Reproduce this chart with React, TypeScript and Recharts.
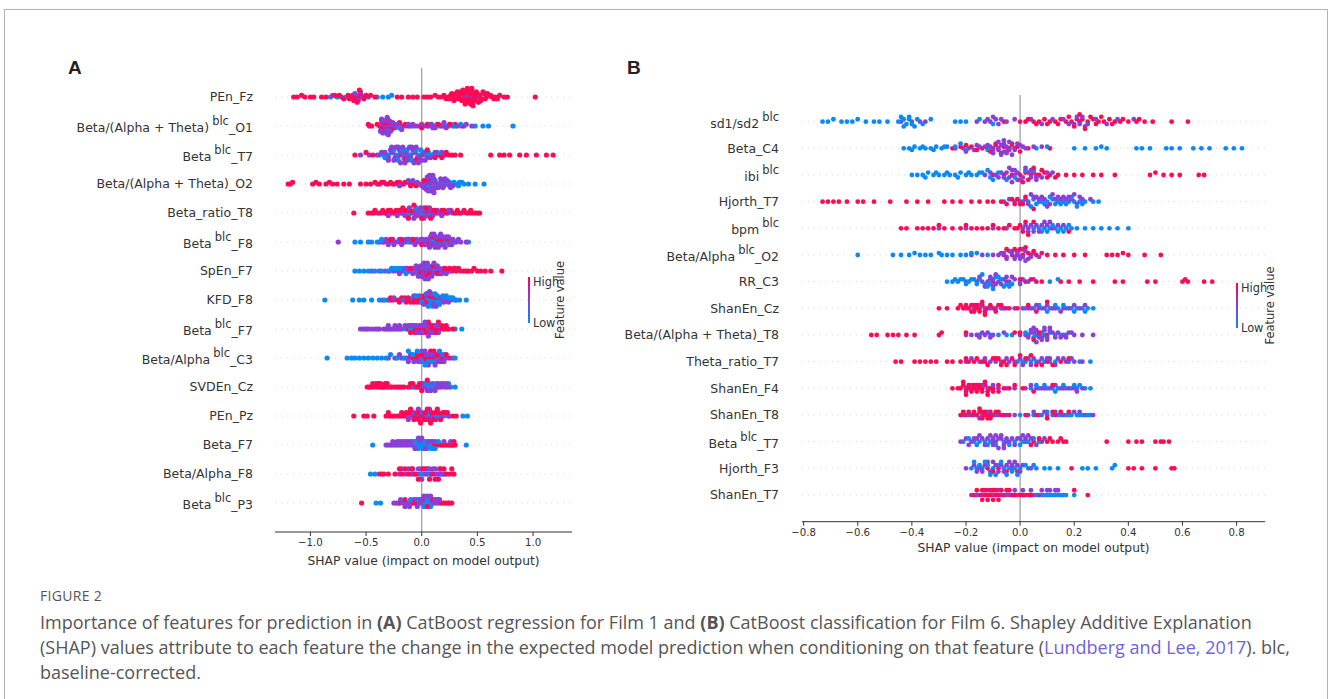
import React from 'react';
import { ScatterChart, Scatter, XAxis, YAxis, CartesianGrid } from 'recharts';

type Row = { lo: number[]; mid: number[]; hi: number[] };

// ---- Panel A: CatBoost regression, Film 1 ----
const featuresA = [
  'PEn_Fz', 'Beta/(Alpha + Theta)^blc_O1', 'Beta^blc_T7', 'Beta/(Alpha + Theta)_O2', 'Beta_ratio_T8',
  'Beta^blc_F8', 'SpEn_F7', 'KFD_F8', 'Beta^blc_F7', 'Beta/Alpha^blc_C3',
  'SVDEn_Cz', 'PEn_Pz', 'Beta_F7', 'Beta/Alpha_F8', 'Beta^blc_P3',
];
const ticksA = [-1, -0.5, 0, 0.5, 1];

const aPEnFz: Row = {
  lo: [-0.82, -0.76, -0.68, -0.4, -0.35, -0.3, -0.27],
  mid: [-0.8, -0.72, -0.64, -0.58, -0.56, -0.53, -0.48, 0.28, 0.38, 0.44, 0.49, 0.33, 0.41, 0.46, 0.52, -0.6, -0.57, -0.55],
  hi: [-1.15, -1.12, -1.08, -1.05, -1.0, -0.97, -0.9, -0.86, -0.78, -0.74, -0.7, -0.66, -0.62, -0.6, -0.57, -0.55, -0.5, -0.46, -0.42, -0.22, -0.18, -0.12, -0.08, -0.04, 0.02, 0.05, 0.08, 0.12, 0.15, 0.18, 0.2, 0.22, 0.24, 0.26, 0.28, 0.3, 0.31, 0.33, 0.34, 0.35, 0.36, 0.37, 0.38, 0.39, 0.4, 0.41, 0.42, 0.43, 0.44, 0.45, 0.46, 0.47, 0.48, 0.5, 0.52, 0.54, 0.56, 0.58, 0.6, 0.63, 0.66, 0.7, 0.74, 0.77, 1.02,
    0.25, 0.27, 0.29, 0.32, 0.35, 0.37, 0.39, 0.41, 0.43, 0.44, 0.45, 0.46, 0.47, 0.49, 0.51, 0.53, 0.55, 0.57, 0.59, 0.62, 0.65, 0.68, -0.65, -0.61, -0.58, -0.56, -0.52],
};
const aO1: Row = {
  lo: [-0.34, -0.31, -0.26, -0.08, 0.02, 0.06, 0.12, 0.16, 0.24, 0.3, 0.38, 0.48, 0.55, 0.6, 0.82, -0.32, -0.2, 0.09, 0.2, 0.28, 0.35],
  mid: [-0.47, -0.38, -0.37, -0.36, -0.35, -0.34, -0.33, -0.32, -0.31, -0.3, -0.29, -0.27, -0.24, -0.2, -0.15, -0.1, -0.05, 0.0, 0.05, 0.1, 0.14, 0.18, 0.22, 0.26, 0.32, 0.4, 0.45,
    -0.37, -0.36, -0.35, -0.34, -0.33, -0.32, -0.31, -0.3, -0.29, -0.28, -0.26, -0.22, -0.18, -0.12, -0.08, 0.08, 0.12, 0.2],
  hi: [-0.48, -0.45, -0.4, -0.36, -0.35, -0.33, -0.32, -0.3, -0.28, -0.25, -0.22, -0.18, -0.12, -0.02, 0.1, 0.2, 0.3, 0.36, -0.36, -0.34, -0.31, -0.29, -0.27, -0.2, -0.15, 0.0, 0.05, 0.15, 0.25],
};
const aT7: Row = {
  lo: [-0.38, -0.34, -0.3, -0.27, -0.23, -0.19, -0.15, -0.11, -0.07, -0.03, 0.01, 0.04, 0.09, 0.14, -0.33, -0.25, -0.21, -0.17, -0.13, -0.09, -0.05, -0.01, 0.06],
  mid: [-0.55, -0.47, -0.4, -0.36, -0.33, -0.3, -0.28, -0.26, -0.24, -0.22, -0.2, -0.18, -0.16, -0.14, -0.12, -0.1, -0.08, -0.06, -0.04, -0.02, 0.02, 0.05, 0.08, 0.12, 0.18,
    -0.3, -0.27, -0.25, -0.23, -0.21, -0.19, -0.17, -0.15, -0.13, -0.11, -0.09, -0.07, -0.05, -0.03, 0.0, 0.03],
  hi: [-0.6, -0.5, -0.44, -0.2, -0.1, 0.0, 0.1, 0.15, 0.2, 0.24, 0.3, 0.35, 0.62, 0.7, 0.74, 0.79, 0.88, 0.94, 1.03, 1.12, 1.18, -0.15, -0.05, 0.05, 0.12, 0.18, 0.22, 0.27],
};
const aO2: Row = {
  lo: [0.04, 0.08, 0.1, 0.13, 0.15, 0.19, 0.23, 0.27, 0.31, 0.34, 0.38, 0.42, 0.48, 0.56, 0.06, 0.11, 0.17, 0.21, 0.25, 0.29, 0.33, 0.36],
  mid: [-0.4, -0.32, -0.24, -0.16, -0.1, -0.06, -0.02, 0.01, 0.03, 0.05, 0.06, 0.07, 0.08, 0.09, 0.1, 0.11, 0.12, 0.14, 0.16, 0.18, 0.2, 0.22, 0.25, 0.28,
    0.0, 0.02, 0.04, 0.05, 0.06, 0.07, 0.08, 0.09, 0.1, 0.11, 0.12, 0.13, 0.15, 0.17, 0.19, 0.21, 0.23, 0.26, -0.04, -0.08, -0.12, -0.2],
  hi: [-1.2, -1.18, -1.16, -0.98, -0.95, -0.92, -0.86, -0.83, -0.8, -0.76, -0.7, -0.65, -0.55, -0.5, -0.46, -0.42, -0.38, -0.34, -0.3, -0.26, -0.22, -0.18, -0.12, -0.08, 0.02, 0.06, -0.36, -0.28, -0.2, -0.15, -0.1, -0.05],
};
const aRatioT8: Row = {
  lo: [-0.18, -0.14, -0.1, -0.07, -0.04, -0.01, 0.01, 0.04, 0.09, 0.24, 0.31, -0.12, -0.05, 0.0, 0.02, 0.06],
  mid: [-0.4, -0.36, -0.32, -0.28, -0.24, -0.2, -0.17, -0.13, -0.09, -0.06, -0.03, 0.0, 0.03, 0.05, 0.08, 0.12, 0.16, 0.2, 0.28, 0.36,
    -0.3, -0.22, -0.15, -0.11, -0.07, -0.04, -0.01, 0.02, 0.04, 0.07, 0.1, 0.14, 0.18, 0.24],
  hi: [-0.61, -0.48, -0.45, -0.42, -0.38, -0.35, -0.3, -0.26, -0.2, -0.15, -0.1, -0.05, 0.02, 0.06, 0.1, 0.14, 0.18, 0.22, 0.26, 0.3, 0.34, 0.38, 0.42, 0.45, 0.48, 0.52,
    -0.43, -0.33, -0.28, -0.23, -0.17, -0.12, -0.07, 0.0, 0.04, 0.08, 0.12, 0.2, 0.32, 0.4, 0.44, 0.5],
};
const aF8: Row = {
  lo: [-0.6, -0.55, -0.48, -0.45, -0.4, -0.36, -0.12, 0.0, 0.05, 0.09, 0.13, 0.17, 0.21, 0.3, 0.42, 0.07, 0.11, 0.15, 0.19, 0.23, 0.26],
  mid: [-0.75, -0.38, -0.35, -0.32, -0.29, -0.26, -0.23, -0.2, -0.17, -0.14, -0.11, -0.08, -0.05, -0.02, 0.01, 0.04, 0.06, 0.08, 0.1, 0.12, 0.14, 0.16, 0.18, 0.2, 0.22, 0.25, 0.28, 0.31, 0.35, 0.4,
    -0.3, -0.25, -0.18, -0.12, -0.06, -0.01, 0.03, 0.07, 0.09, 0.11, 0.13, 0.15, 0.17, 0.19, 0.21, 0.24, 0.27, 0.33],
  hi: [-0.34, -0.3, -0.25, -0.2, -0.15, -0.1, -0.05, 0.02, 0.08, 0.12, 0.16, 0.2, 0.26, -0.28, -0.18, -0.08, 0.0, 0.05, 0.1, 0.14, 0.18, 0.23],
};
const aSpEnF7: Row = {
  lo: [-0.6, -0.56, -0.52, -0.48, -0.42, -0.36, -0.3, -0.24, -0.18, -0.08, 0.03, 0.11, -0.27, -0.21, -0.14, -0.04, 0.06],
  mid: [-0.45, -0.38, -0.33, -0.29, -0.25, -0.21, -0.17, -0.13, -0.1, -0.07, -0.04, -0.02, 0.01, 0.02, 0.04, 0.05, 0.07, 0.08, 0.1, 0.13, 0.16, 0.2, 0.25, 0.3,
    -0.2, -0.15, -0.08, -0.05, -0.03, -0.01, 0.0, 0.02, 0.03, 0.05, 0.06, 0.09, 0.11, 0.14, 0.18, 0.22],
  hi: [-0.2, -0.12, -0.05, 0.0, 0.03, 0.06, 0.09, 0.12, 0.15, 0.19, 0.23, 0.27, 0.31, 0.35, 0.38, 0.42, 0.45, 0.5, 0.53, 0.57, 0.62, 0.72,
    -0.1, -0.02, 0.01, 0.04, 0.07, 0.1, 0.14, 0.17, 0.21, 0.25, 0.29, 0.33, 0.4, 0.47],
};
const aKfdF8: Row = {
  lo: [-0.87, -0.62, -0.56, -0.52, -0.45, -0.38, -0.33, -0.08, -0.02, 0.02, 0.05, 0.07, 0.09, 0.11, 0.13, 0.15, 0.18, 0.2, 0.24, 0.28, 0.34, 0.4,
    0.0, 0.04, 0.06, 0.08, 0.1, 0.12, 0.14, 0.16, 0.19, 0.22, 0.26, 0.31, -0.05],
  mid: [-0.35, -0.28, -0.2, -0.14, -0.1, -0.04, 0.01, 0.04, 0.06, 0.08, 0.1, 0.12, 0.14, 0.16, 0.19, 0.22, 0.26, 0.3,
    -0.25, -0.17, -0.07, -0.02, 0.02, 0.05, 0.07, 0.09, 0.11, 0.13, 0.17, 0.2, 0.24],
  hi: [-0.3, -0.26, -0.22, -0.18, -0.15, -0.12, -0.09, -0.06, -0.03, 0.0, 0.03, 0.07, 0.12, -0.28, -0.2, -0.14, -0.1, -0.07, -0.04, -0.01, 0.02, 0.05, 0.09],
};
const aF7: Row = {
  lo: [-0.24, -0.14, -0.07, -0.03, 0.03, 0.06, 0.12, 0.18, 0.22, 0.3, 0.36, -0.1, -0.05, 0.0, 0.05, 0.08, 0.15],
  mid: [-0.55, -0.52, -0.48, -0.45, -0.42, -0.38, -0.34, -0.3, -0.26, -0.22, -0.18, -0.15, -0.1, -0.06, -0.02, 0.01, 0.04, 0.07, 0.11, 0.15,
    -0.5, -0.4, -0.32, -0.28, -0.24, -0.2, -0.12, -0.08, -0.04, 0.0, 0.03, 0.06, 0.09, 0.13],
  hi: [-0.3, -0.2, -0.12, -0.08, -0.04, 0.0, 0.02, 0.05, 0.08, 0.1, 0.13, 0.16, 0.2, 0.24, 0.28, -0.1, -0.06, -0.02, 0.01, 0.04, 0.06, 0.09, 0.12, 0.15, 0.18, 0.22],
};
const aC3: Row = {
  lo: [-0.85, -0.67, -0.63, -0.6, -0.56, -0.52, -0.48, -0.44, -0.4, -0.36, -0.32, -0.28, -0.22, -0.16, -0.08, 0.0, 0.06, 0.12, 0.2, 0.3, -0.12, -0.04, 0.03, 0.09, 0.16],
  mid: [-0.3, -0.24, -0.18, -0.14, -0.1, -0.05, -0.01, 0.02, 0.05, 0.08, 0.11, 0.14, 0.18, 0.22, 0.28, -0.2, -0.12, -0.07, -0.03, 0.0, 0.03, 0.06, 0.09, 0.12, 0.15, 0.2],
  hi: [-0.12, -0.06, -0.02, 0.01, 0.04, 0.07, 0.1, 0.13, 0.16, 0.2, 0.25, -0.08, -0.04, 0.0, 0.02, 0.05, 0.08, 0.11, 0.14, 0.18, 0.22],
};
const aSvdCz: Row = {
  lo: [-0.06, 0.0, 0.03, 0.06, 0.08, 0.11, 0.14, 0.17, 0.22, 0.26, 0.3, 0.02, 0.05, 0.09, 0.13, 0.19, 0.24],
  mid: [-0.1, -0.05, -0.02, 0.02, 0.04, 0.07, 0.1, 0.13, 0.16, 0.2, 0.24, -0.08, 0.0, 0.05, 0.08, 0.12, 0.15, 0.18, 0.22],
  hi: [-0.49, -0.46, -0.43, -0.4, -0.38, -0.36, -0.34, -0.32, -0.3, -0.27, -0.24, -0.2, -0.16, -0.12, -0.08, -0.04, 0.0, 0.05,
    -0.47, -0.44, -0.41, -0.39, -0.37, -0.35, -0.33, -0.31, -0.28, -0.22, -0.18, -0.1, -0.02],
};
const aPEnPz: Row = {
  lo: [-0.08, -0.02, 0.04, 0.1, 0.16, 0.2, 0.37, 0.41, 0.07, 0.13, 0.25],
  mid: [-0.18, -0.14, -0.1, -0.05, -0.01, 0.02, 0.05, 0.08, 0.11, 0.14, 0.18, 0.24, -0.12, -0.07, -0.03, 0.0, 0.04, 0.07, 0.1, 0.13],
  hi: [-0.61, -0.52, -0.49, -0.43, -0.32, -0.29, -0.27, -0.25, -0.2, -0.16, -0.12, -0.09, -0.06, -0.03, 0.0, 0.03, 0.06, 0.09, 0.12, 0.15, 0.19, 0.23, 0.28,
    -0.3, -0.22, -0.18, -0.14, -0.1, -0.07, -0.04, -0.01, 0.02, 0.05, 0.08, 0.11, 0.14, 0.17, 0.21, 0.31],
};
const aBetaF7: Row = {
  lo: [-0.44, -0.26, -0.22, -0.18, -0.14, -0.1, -0.07, -0.04, -0.02, 0.0, 0.02, 0.05, 0.09, 0.15, 0.4, -0.2, -0.16, -0.12, -0.08, -0.06, -0.03, -0.01, 0.01, 0.03, 0.07, 0.12],
  mid: [-0.32, -0.28, -0.24, -0.2, -0.16, -0.12, -0.08, -0.05, -0.02, 0.01, 0.04, 0.08, 0.12, 0.2, 0.26, -0.3, -0.26, -0.22, -0.18, -0.14, -0.1, -0.06, -0.03, 0.0, 0.03, 0.06, 0.1],
  hi: [0.05, 0.1, 0.14, 0.18, 0.22, 0.25, 0.28, 0.3, 0.08, 0.12, 0.16, 0.2, 0.24, 0.27, 0.29],
};
const aAlphaF8: Row = {
  lo: [-0.46, -0.42, -0.08, 0.04, 0.13, 0.19, 0.28, 0.0, 0.08, 0.16],
  mid: [-0.36, -0.2, -0.15, -0.1, -0.05, -0.02, 0.02, 0.06, 0.09, 0.12, 0.16, 0.21, -0.18, -0.12, -0.08, -0.03, 0.0, 0.04, 0.07, 0.1, 0.14, 0.18],
  hi: [-0.38, -0.34, -0.3, -0.24, -0.18, -0.12, -0.06, 0.0, 0.05, 0.1, 0.15, 0.2, 0.25, 0.29, -0.2, -0.15, -0.09, -0.03, 0.02, 0.07, 0.12, 0.17, 0.22, 0.27],
};
const aP3: Row = {
  lo: [-0.41, -0.37, -0.15, -0.06, 0.0, 0.03, 0.06, 0.09, -0.1, -0.03, 0.02, 0.05, 0.08],
  mid: [-0.25, -0.21, -0.17, -0.13, -0.09, -0.05, -0.02, 0.01, 0.04, 0.07, 0.1, 0.14, -0.23, -0.19, -0.15, -0.11, -0.07, -0.04, -0.01, 0.02, 0.05, 0.08, 0.12, 0.16],
  hi: [-0.54, -0.2, -0.1, -0.04, 0.02, 0.08, 0.12, 0.16, 0.2, 0.24, 0.27, -0.15, -0.07, 0.0, 0.05, 0.1, 0.14, 0.18, 0.22, 0.25],
};
const rowsA = [aPEnFz, aO1, aT7, aO2, aRatioT8, aF8, aSpEnF7, aKfdF8, aF7, aC3, aSvdCz, aPEnPz, aBetaF7, aAlphaF8, aP3];

// ---- Panel B: CatBoost classification, Film 6 ----
const featuresB = [
  'sd1/sd2^blc', 'Beta_C4', 'ibi^blc', 'Hjorth_T7', 'bpm^blc',
  'Beta/Alpha^blc_O2', 'RR_C3', 'ShanEn_Cz', 'Beta/(Alpha + Theta)_T8', 'Theta_ratio_T7',
  'ShanEn_F4', 'ShanEn_T8', 'Beta^blc_T7', 'Hjorth_F3', 'ShanEn_T7',
];
const ticksB = [-0.8, -0.6, -0.4, -0.2, 0, 0.2, 0.4, 0.6, 0.8];

const bSd: Row = {
  lo: [-0.73, -0.71, -0.69, -0.66, -0.64, -0.62, -0.6, -0.57, -0.54, -0.52, -0.49, -0.45, -0.43, -0.42, -0.41, -0.4, -0.38, -0.36, -0.33, -0.24, -0.22, -0.2, -0.15, -0.1, -0.44, -0.43, -0.41, -0.39],
  mid: [-0.44, -0.4, -0.37, -0.35, -0.16, -0.13, -0.11, -0.09, -0.07, -0.05, -0.02, 0.04, 0.08, 0.12, 0.16, 0.2, 0.22, 0.23, 0.24, 0.28, 0.32, 0.36, 0.42, 0.18, 0.21, 0.25, -0.12, -0.1, -0.08],
  hi: [-0.06, 0.0, 0.02, 0.05, 0.07, 0.09, 0.11, 0.13, 0.15, 0.17, 0.19, 0.21, 0.22, 0.23, 0.25, 0.27, 0.29, 0.31, 0.33, 0.35, 0.37, 0.4, 0.43, 0.46, 0.49, 0.56, 0.62,
    0.03, 0.06, 0.1, 0.14, 0.18, 0.2, 0.22, 0.24, 0.26, 0.28, 0.3, 0.34, 0.38, 0.44],
};
const bC4: Row = {
  lo: [-0.43, -0.41, -0.39, -0.37, -0.35, -0.33, -0.31, -0.29, -0.27, -0.2, -0.12, -0.06, 0.06, 0.1, 0.2, 0.24, 0.28, 0.3, 0.32, 0.43, 0.45, 0.48, 0.54, 0.56, 0.59, 0.64, 0.67, 0.7, 0.76, 0.79, 0.82,
    -0.4, -0.36, -0.32, -0.28, -0.24, -0.22],
  mid: [-0.24, -0.21, -0.19, -0.17, -0.15, -0.13, -0.11, -0.1, -0.09, -0.08, -0.07, -0.06, -0.05, -0.04, -0.03, -0.02, 0.0, 0.02, 0.05, 0.08,
    -0.2, -0.16, -0.12, -0.1, -0.08, -0.07, -0.06, -0.05, -0.04, -0.03, -0.01, 0.01],
  hi: [-0.25, -0.22, -0.18, -0.14, -0.12, -0.1, -0.08, -0.06, -0.04, -0.02, -0.01, 0.03, 0.11, -0.2, -0.16, -0.11, -0.09, -0.07, -0.05, -0.03, 0.0],
};
const bIbi: Row = {
  lo: [-0.4, -0.38, -0.36, -0.34, -0.32, -0.3, -0.28, -0.26, -0.24, -0.22, -0.2, -0.18, -0.16, -0.14, -0.11, -0.08, -0.05, -0.02, 0.02, 0.05, -0.35, -0.31, -0.27, -0.23, -0.19, -0.15, -0.12, -0.1],
  mid: [-0.13, -0.11, -0.09, -0.07, -0.05, -0.04, -0.03, -0.02, -0.01, 0.01, 0.03, 0.04, 0.05, 0.06, 0.08, 0.1, 0.12, -0.08, -0.06, -0.04, -0.03, -0.02, -0.01, 0.0, 0.02, 0.04, 0.06],
  hi: [-0.1, -0.06, -0.03, 0.0, 0.02, 0.04, 0.06, 0.07, 0.09, 0.11, 0.14, 0.17, 0.2, 0.23, 0.27, 0.3, 0.35, 0.48, 0.5, 0.53, 0.56, 0.59, 0.66, 0.68, 0.01, 0.03, 0.05, 0.08, 0.1, 0.13],
};
const bHjT7: Row = {
  lo: [0.01, 0.03, 0.05, 0.07, 0.08, 0.1, 0.12, 0.14, 0.16, 0.18, 0.2, 0.22, 0.24, 0.27, 0.29, 0.04, 0.06, 0.09, 0.11, 0.13, 0.15, 0.17, 0.19, 0.21, 0.23],
  mid: [-0.06, -0.04, -0.02, 0.0, 0.02, 0.03, 0.05, 0.07, 0.09, 0.11, 0.13, 0.15, 0.17, 0.19, 0.21, 0.23, 0.26, 0.04, 0.06, 0.08, 0.1, 0.12, 0.14, 0.16, 0.18, 0.2, 0.22],
  hi: [-0.73, -0.71, -0.69, -0.67, -0.64, -0.6, -0.58, -0.54, -0.48, -0.42, -0.38, -0.34, -0.28, -0.25, -0.22, -0.18, -0.15, -0.12, -0.1, -0.07, -0.05, -0.03, -0.01, 0.01, 0.05, -0.02, 0.0, 0.02],
};
const bBpm: Row = {
  lo: [0.05, 0.07, 0.09, 0.11, 0.13, 0.15, 0.17, 0.19, 0.21, 0.24, 0.27, 0.3, 0.33, 0.36, 0.4, 0.08, 0.1, 0.12, 0.14, 0.16, 0.18],
  mid: [-0.3, -0.2, -0.1, -0.05, 0.01, 0.03, 0.04, 0.06, 0.08, 0.1, 0.12, 0.14, 0.16, 0.02, 0.03, 0.05, 0.07, 0.09, 0.11],
  hi: [-0.44, -0.42, -0.38, -0.36, -0.34, -0.32, -0.3, -0.28, -0.25, -0.22, -0.2, -0.18, -0.16, -0.14, -0.12, -0.1, -0.08, -0.06, -0.04, -0.02, 0.0, 0.02, 0.05, 0.18, -0.01, 0.01, 0.03],
};
const bO2: Row = {
  lo: [-0.6, -0.47, -0.44, -0.41, -0.39, -0.37, -0.35, -0.33, -0.29, -0.27, -0.25, -0.22, -0.2, -0.16, -0.12, -0.3, -0.18],
  mid: [-0.18, -0.14, -0.1, -0.08, -0.06, -0.05, -0.04, -0.03, -0.02, -0.01, 0.0, 0.01, 0.02, 0.03, 0.05, 0.07, -0.07, -0.05, -0.03, -0.02, -0.01, 0.0, 0.01, 0.02, 0.04],
  hi: [-0.06, -0.03, -0.01, 0.01, 0.03, 0.04, 0.06, 0.08, 0.1, 0.13, 0.16, 0.2, 0.24, 0.32, 0.34, 0.36, 0.38, 0.4, 0.46, 0.52, -0.05, -0.02, 0.0, 0.02, 0.05],
};
const bRrC3: Row = {
  lo: [-0.27, -0.25, -0.23, -0.21, -0.19, -0.17, -0.15, -0.13, -0.11, -0.09, -0.07, -0.05, -0.03, 0.0, 0.11, 0.14, -0.24, -0.22, -0.2, -0.18, -0.16, -0.14, -0.12, -0.1, -0.08, -0.06, -0.04],
  mid: [-0.2, -0.16, -0.14, -0.12, -0.11, -0.1, -0.09, -0.08, -0.06, -0.04, -0.02, 0.01, 0.03, 0.05, -0.15, -0.13, -0.11, -0.1, -0.09, -0.07, -0.05, -0.03, 0.0],
  hi: [-0.1, -0.05, 0.02, 0.06, 0.08, 0.15, 0.18, 0.22, 0.27, 0.35, 0.38, 0.47, 0.5, 0.6, 0.61, 0.62, 0.68, 0.71, 0.0, 0.04],
};
const bShCz: Row = {
  lo: [0.02, 0.05, 0.08, 0.11, 0.14, 0.17, 0.19, 0.21, 0.23, 0.25, 0.27, 0.07, 0.1, 0.13, 0.16, 0.2, 0.24],
  mid: [-0.2, -0.17, -0.13, -0.09, -0.05, -0.02, 0.01, 0.04, 0.07, 0.1, 0.13, 0.16, 0.2, 0.24, -0.15, -0.11, -0.07, 0.03, 0.06, 0.09, 0.12, 0.15, 0.18, 0.22],
  hi: [-0.3, -0.27, -0.23, -0.21, -0.19, -0.18, -0.17, -0.16, -0.15, -0.14, -0.13, -0.12, -0.1, -0.08, -0.06, -0.04, -0.01, 0.03, 0.06, 0.1,
    -0.22, -0.2, -0.18, -0.17, -0.16, -0.15, -0.14, -0.13, -0.11, -0.09, -0.07],
};
const bT8: Row = {
  lo: [-0.15, -0.11, -0.08, -0.05, -0.03, 0.03, 0.06, 0.09, 0.13, 0.17, 0.02, 0.05, 0.08, 0.11, 0.15],
  mid: [-0.2, -0.18, -0.16, -0.14, -0.12, -0.1, -0.06, 0.0, 0.02, 0.04, 0.05, 0.06, 0.07, 0.08, 0.09, 0.1, 0.11, 0.12, 0.14, 0.16, 0.18, 0.2, 0.23, 0.27,
    0.03, 0.04, 0.05, 0.06, 0.07, 0.08, 0.09, 0.1, 0.11, 0.13, 0.15, 0.17, 0.19, -0.15, -0.13, -0.11],
  hi: [-0.55, -0.53, -0.49, -0.47, -0.45, -0.42, -0.39, -0.3, -0.29, -0.2, -0.02, 0.05, 0.1, 0.07, 0.0],
};
const bThT7: Row = {
  lo: [-0.01, 0.01, 0.04, 0.09, 0.13, 0.22, 0.26, 0.02, 0.06, 0.11, 0.18],
  mid: [-0.2, -0.15, -0.11, -0.07, -0.04, -0.02, 0.0, 0.03, 0.05, 0.08, 0.11, 0.14, 0.17, 0.2, 0.23, -0.18, -0.13, -0.09, -0.05, 0.01, 0.04, 0.07, 0.1, 0.13, 0.16, 0.19],
  hi: [-0.46, -0.44, -0.39, -0.37, -0.35, -0.33, -0.31, -0.27, -0.25, -0.22, -0.19, -0.16, -0.13, -0.1, -0.08, -0.06, -0.03, 0.02, 0.06, 0.1, 0.15, 0.18,
    -0.2, -0.17, -0.14, -0.12, -0.09, -0.07, -0.05, -0.02, 0.0, 0.04, 0.08, 0.12],
};
const bShF4: Row = {
  lo: [0.04, 0.07, 0.1, 0.12, 0.14, 0.17, 0.19, 0.21, 0.24, 0.26, 0.06, 0.09, 0.13, 0.16, 0.2, 0.22],
  mid: [-0.2, -0.16, -0.12, -0.08, -0.05, -0.02, 0.02, 0.06, 0.09, 0.13, 0.16, 0.2, 0.23, -0.18, -0.14, -0.1, 0.04, 0.08, 0.11, 0.15, 0.18, 0.21],
  hi: [-0.25, -0.22, -0.21, -0.2, -0.19, -0.18, -0.17, -0.16, -0.15, -0.14, -0.13, -0.12, -0.11, -0.1, -0.08, -0.06, -0.04, -0.02, 0.01, 0.05, 0.12,
    -0.23, -0.21, -0.2, -0.19, -0.18, -0.17, -0.16, -0.15, -0.14, -0.13, -0.12, -0.1, -0.08],
};
const bShT8: Row = {
  lo: [0.0, 0.05, 0.08, 0.12, 0.15, 0.17, 0.19, 0.21, 0.23, 0.26, 0.1, 0.14, 0.18, 0.22, 0.25],
  mid: [-0.21, -0.17, -0.14, -0.11, -0.08, -0.05, -0.02, 0.03, 0.07, 0.1, 0.16, 0.2, 0.24, 0.27, -0.19, -0.15, -0.12, -0.09, 0.05, 0.09, 0.13, 0.22],
  hi: [-0.22, -0.2, -0.18, -0.16, -0.15, -0.14, -0.13, -0.12, -0.11, -0.1, -0.08, -0.06, -0.04, 0.02, 0.06, 0.1, 0.13,
    -0.21, -0.19, -0.17, -0.15, -0.14, -0.13, -0.12, -0.11, -0.09, -0.07, 0.12, 0.15, 0.18],
};
const bBetaT7: Row = {
  lo: [-0.21, -0.17, -0.15, -0.13, -0.11, -0.06, -0.02, 0.01, 0.03, 0.05, 0.07, -0.19, -0.16, -0.12, -0.09, -0.04, 0.0],
  mid: [-0.22, -0.2, -0.18, -0.16, -0.14, -0.12, -0.1, -0.09, -0.08, -0.07, -0.06, -0.05, -0.04, -0.03, -0.01, 0.0, 0.02, 0.04, 0.06, 0.09,
    -0.19, -0.17, -0.15, -0.13, -0.11, -0.1, -0.09, -0.08, -0.07, -0.06, -0.05, -0.02, 0.01, 0.03],
  hi: [-0.1, 0.02, 0.05, 0.08, 0.1, 0.12, 0.14, 0.16, 0.17, 0.32, 0.4, 0.43, 0.45, 0.5, 0.52, 0.53, 0.55, 0.04, 0.07, 0.11, 0.15],
};
const bHjF3: Row = {
  lo: [-0.18, -0.16, -0.14, -0.12, -0.1, -0.08, -0.06, -0.04, -0.02, 0.0, 0.03, 0.06, 0.09, 0.11, 0.14, 0.23, 0.25, 0.28, 0.34, 0.35,
    -0.17, -0.15, -0.13, -0.11, -0.09, -0.07, -0.05, -0.03, -0.01, 0.02, 0.05],
  mid: [-0.2, -0.17, -0.15, -0.13, -0.11, -0.09, -0.07, -0.05, -0.03, -0.01, 0.01, 0.04, -0.16, -0.14, -0.12, -0.1, -0.08, -0.06, -0.04, -0.02, 0.0],
  hi: [-0.12, -0.08, -0.03, 0.19, 0.4, 0.42, 0.45, 0.5, 0.56, 0.57, -0.1, -0.05, -0.01],
};
const bShT7: Row = {
  lo: [0.06, 0.09, 0.11, 0.13, 0.15, 0.17, 0.2, 0.08, 0.1, 0.12, 0.14, 0.16],
  mid: [-0.18, -0.14, -0.1, -0.07, -0.04, -0.01, 0.02, 0.05, 0.08, 0.11, 0.14, -0.16, -0.12, -0.08, -0.05, -0.02, 0.01, 0.04, 0.07, 0.1, 0.13],
  hi: [-0.17, -0.15, -0.14, -0.13, -0.12, -0.11, -0.1, -0.09, -0.08, -0.06, -0.04, -0.02, 0.01, 0.04, 0.2, 0.25,
    -0.16, -0.14, -0.13, -0.12, -0.11, -0.1, -0.09, -0.08, -0.07, -0.05, -0.03, 0.0, 0.03],
};
const rowsB = [bSd, bC4, bIbi, bHjT7, bBpm, bO2, bRrC3, bShCz, bT8, bThT7, bShF4, bShT8, bBetaT7, bHjF3, bShT7];

const COLORS = ['#0b8af7', '#8a3fd8', '#ff0a55'];
const NBINS = 45;
const ROW_H = 0.4;
const FONT = 'DejaVu Sans';
const rowTicks = Array.from({ length: 15 }, (_, i) => i);

// shap-style beeswarm: stack points that share a bin above/below the row
function buildPoints(rows: Row[]) {
  const out: { x: number; y: number; fill: string }[] = [];
  rows.forEach((row, r) => {
    const pos = rows.length - 1 - r;
    const groups = [row.lo, row.mid, row.hi];
    const pts: { v: number; c: number }[] = [];
    const maxLen = Math.max(...groups.map(g => g.length));
    for (let i = 0; i < maxLen; i++) groups.forEach((g, c) => { if (i < g.length) pts.push({ v: g[i], c }); });
    const vs = pts.map(p => p.v);
    const min = Math.min(...vs), max = Math.max(...vs);
    const quant = vs.map(v => Math.round(NBINS * (v - min) / (max - min + 1e-8)));
    const order = pts.map((_, i) => i).sort((a, b) => quant[a] - quant[b] || a - b);
    const ys = new Array(pts.length).fill(0);
    let layer = 0, last = -1;
    for (const i of order) {
      if (quant[i] !== last) layer = 0;
      ys[i] = Math.ceil(layer / 2) * ((layer % 2) * 2 - 1);
      layer++;
      last = quant[i];
    }
    const m = Math.max(...ys.map(y => y + 1));
    pts.forEach((p, i) => out.push({ x: p.v, y: pos + ys[i] * 0.9 * (ROW_H / m), fill: COLORS[p.c] }));
  });
  return out;
}

const pointsA = buildPoints(rowsA);
const pointsB = buildPoints(rowsB);

const fmt = (v: number) => (v < 0 ? '\u2212' : '') + Math.abs(v).toFixed(1);

function featureTick(labels: string[], right: number) {
  return (p: any) => {
    const label = labels[labels.length - 1 - p.payload.value] || '';
    const [base, tail] = label.split('^blc');
    const common = { x: right, textAnchor: 'end' as const, fill: '#333', fontSize: 12.5, fontFamily: FONT };
    if (tail === undefined) {
      return <text {...common} y={p.y} dy="0.35em">{base}</text>;
    }
    return (
      <text {...common} y={p.y + 1.5} dy="0.35em">
        <tspan>{base}</tspan>
        <tspan dx={3} dy={-7} fontSize={11.5}>blc</tspan>
        <tspan dy={7}>{tail}</tspan>
      </text>
    );
  };
}

const dot = (r: number) => (p: any) => <circle cx={p.cx} cy={p.cy} r={r} fill={p.payload.fill} />;

function Beeswarm({ points, labels, domain, ticks, width, height, yWidth, margin, labelRight, labelOffset, r }: any) {
  return (
    <ScatterChart width={width} height={height} margin={margin}>
      <CartesianGrid horizontal vertical={false} horizontalValues={rowTicks} stroke="#cccccc" strokeDasharray="1 5" strokeWidth={0.8} />
      <CartesianGrid horizontal={false} vertical verticalValues={[0]} stroke="#999999" strokeWidth={1.2} />
      <XAxis
        type="number" dataKey="x" domain={domain} ticks={ticks} allowDataOverflow height={40}
        tickFormatter={fmt} tickSize={4} tickMargin={3} stroke="#333"
        tick={{ fill: '#333', fontSize: 10.2, fontFamily: FONT }}
        label={{ value: 'SHAP value (impact on model output)', position: 'insideBottom', offset: labelOffset, fill: '#333', fontSize: 12.3, fontFamily: FONT }}
      />
      <YAxis
        type="number" dataKey="y" domain={[-1, 15]} ticks={rowTicks} interval={0} allowDataOverflow
        width={yWidth} axisLine={false} tickLine={false} tick={featureTick(labels, labelRight)}
      />
      <Scatter data={points} isAnimationActive={false} shape={dot(r)} />
    </ScatterChart>
  );
}

function ColorBar({ id, x, y0, y1, textX, labelX }: any) {
  const mid = (y0 + y1) / 2;
  const t = { fill: '#333', fontSize: 11.4, fontFamily: FONT };
  return (
    <g>
      <defs>
        <linearGradient id={id} x1="0" y1="0" x2="0" y2="1">
          <stop offset="0%" stopColor="#ff0052" />
          <stop offset="50%" stopColor="#8a3fd8" />
          <stop offset="100%" stopColor="#008bfb" />
        </linearGradient>
      </defs>
      <rect x={x} y={y0} width={2} height={y1 - y0} fill={`url(#${id})`} />
      <text {...t} x={textX} y={y0 + 5} dy="0.35em">High</text>
      <text {...t} x={textX} y={y1} dy="0.35em">Low</text>
      <text {...t} x={labelX} y={mid} dy="0.35em" textAnchor="middle" transform={`rotate(-90 ${labelX} ${mid})`}>Feature value</text>
    </g>
  );
}

export default function App() {
  return (
    <div style={{ position: 'absolute', left: 0, top: 0, width: 1328, height: 699, overflow: 'hidden', background: '#fff' }}>
      <div style={{ position: 'absolute', left: 4, top: 9, width: 1324, height: 720, border: '1px solid #b4b4b4', boxSizing: 'border-box' }} />

      <div style={{ position: 'absolute', left: 0, top: 0 }}>
        <Beeswarm points={pointsA} labels={featuresA} domain={[-1.318, 1.35]} ticks={ticksA}
          width={600} height={600} yWidth={275} margin={{ top: 68, right: 28, bottom: 28, left: 0 }}
          labelRight={253} labelOffset={7.5} r={2.6} />
      </div>
      <div style={{ position: 'absolute', left: 620, top: 0 }}>
        <Beeswarm points={pointsB} labels={featuresB} domain={[-0.806, 0.905]} ticks={ticksB}
          width={700} height={600} yWidth={182} margin={{ top: 95, right: 55, bottom: 38.3, left: 0 }}
          labelRight={159} labelOffset={9.7} r={2.4} />
      </div>

      <svg width={1328} height={699} style={{ position: 'absolute', left: 0, top: 0, pointerEvents: 'none' }}>
        <text x={68} y={74} fontFamily="Liberation Sans" fontWeight="bold" fontSize={19} fill="#222">A</text>
        <text x={627} y={74} fontFamily="Liberation Sans" fontWeight="bold" fontSize={19} fill="#222">B</text>
        <ColorBar id="cbA" x={528} y0={277} y1={323} textX={533} labelX={560} />
        <ColorBar id="cbB" x={1236} y0={283} y1={328} textX={1241} labelX={1270} />
      </svg>

      <div style={{ position: 'absolute', left: 40, top: 585, fontFamily: 'Open Sans', color: '#555', whiteSpace: 'nowrap' }}>
        <div style={{ fontSize: 14, lineHeight: '22px', letterSpacing: 0.3 }}>FIGURE 2</div>
        <div style={{ fontSize: 18, lineHeight: '25px', marginTop: 2.5 }}>
          <div>Importance of features for prediction in <b>(A)</b> CatBoost regression for Film 1 and <b>(B)</b> CatBoost classification for Film 6. Shapley Additive Explanation</div>
          <div>(SHAP) values attribute to each feature the change in the expected model prediction when conditioning on that feature (<span style={{ color: '#6f63d9' }}>Lundberg and Lee, 2017</span>). blc,</div>
          <div>baseline-corrected.</div>
        </div>
      </div>
    </div>
  );
}
